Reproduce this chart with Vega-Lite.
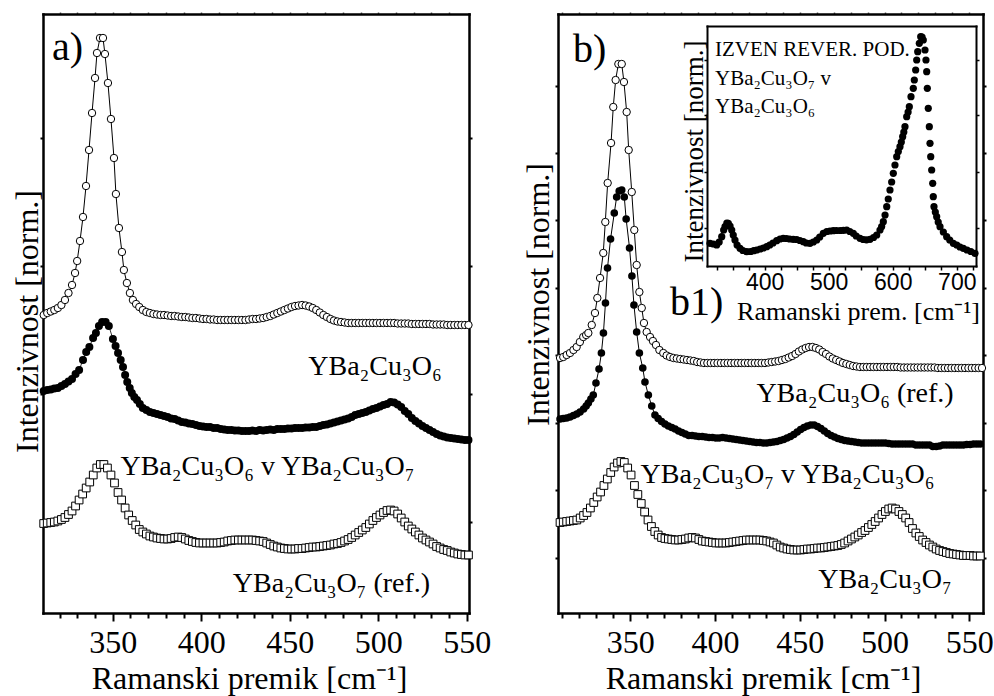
{
"$schema":"https://vega.github.io/schema/vega-lite/v6.json",
"width":940,"height":599,
"autosize":"none",
"padding":{"left":43,"top":14,"right":11,"bottom":83},
"background":"white",
"config":{
"view":{"stroke":null},
"font":"Liberation Serif",
"style":{"guide-label":{"font":"Liberation Serif"},"guide-title":{"font":"Liberation Serif"}},
"axis":{"labelFont":"Liberation Serif","titleFont":"Liberation Serif","labelColor":"black","titleColor":"black","domainColor":"black","tickColor":"black","titleFontWeight":"normal","grid":false,"labelFlush":false,"labelOverlap":false,"domainCap":"square"},
"text":{"font":"Liberation Serif","color":"black"}
},
"datasets":{
"A1":[{"x":311,"y":207},{"x":313,"y":209},{"x":315,"y":210.5},{"x":317,"y":212},{"x":319,"y":214},{"x":321,"y":217},{"x":323,"y":222},{"x":325,"y":229},{"x":327,"y":237},{"x":328.7,"y":249},{"x":329.9,"y":261},{"x":331.5,"y":281},{"x":333.2,"y":305},{"x":334.9,"y":336},{"x":336.6,"y":372},{"x":338.3,"y":409},{"x":340,"y":444},{"x":341.1,"y":469},{"x":342.8,"y":484},{"x":344.5,"y":484},{"x":345.6,"y":468},{"x":347.3,"y":439},{"x":349,"y":403},{"x":350.7,"y":364},{"x":351.8,"y":328},{"x":353.5,"y":294},{"x":355.2,"y":270},{"x":356.3,"y":252},{"x":358,"y":239},{"x":359.7,"y":229},{"x":361.4,"y":222},{"x":363.2,"y":218},{"x":365,"y":215},{"x":367,"y":212},{"x":369,"y":210},{"x":371,"y":209},{"x":373,"y":208},{"x":375,"y":207.5},{"x":377,"y":207},{"x":379,"y":207},{"x":381,"y":206.5},{"x":383,"y":206},{"x":385,"y":206},{"x":387,"y":205.5},{"x":389,"y":205},{"x":391,"y":205},{"x":393,"y":204.5},{"x":395,"y":204},{"x":397,"y":204},{"x":399,"y":203.5},{"x":401,"y":203},{"x":403,"y":203},{"x":405,"y":202.5},{"x":407,"y":202.5},{"x":409,"y":202},{"x":411,"y":202},{"x":413,"y":202},{"x":415,"y":202},{"x":417,"y":202},{"x":419,"y":202},{"x":421,"y":202},{"x":423,"y":202},{"x":425,"y":202},{"x":427,"y":202.5},{"x":429,"y":203},{"x":431,"y":203},{"x":433,"y":203.5},{"x":435,"y":204},{"x":437,"y":205},{"x":439,"y":206},{"x":441,"y":207.5},{"x":443,"y":209},{"x":445,"y":210.5},{"x":447,"y":212},{"x":449,"y":213.5},{"x":451,"y":215},{"x":453,"y":216},{"x":455,"y":216.5},{"x":457,"y":217},{"x":459,"y":216.5},{"x":461,"y":215.5},{"x":463,"y":214},{"x":465,"y":212},{"x":467,"y":209.5},{"x":469,"y":207},{"x":471,"y":205},{"x":473,"y":203},{"x":475,"y":201.5},{"x":477,"y":200.5},{"x":479,"y":200},{"x":481,"y":199.5},{"x":483,"y":199},{"x":485,"y":199},{"x":487,"y":199},{"x":489,"y":199},{"x":491,"y":199},{"x":493,"y":199},{"x":495,"y":199},{"x":497,"y":199},{"x":499,"y":199},{"x":501,"y":199},{"x":503,"y":199},{"x":505,"y":199},{"x":507,"y":199},{"x":509,"y":199},{"x":511,"y":198.5},{"x":513,"y":198.5},{"x":515,"y":198.5},{"x":517,"y":198.5},{"x":519,"y":198},{"x":521,"y":198},{"x":523,"y":198},{"x":525,"y":198},{"x":527,"y":198},{"x":529,"y":198},{"x":531,"y":197.5},{"x":533,"y":197.5},{"x":535,"y":197.5},{"x":537,"y":197.5},{"x":539,"y":197},{"x":541,"y":197},{"x":543,"y":197},{"x":545,"y":197},{"x":547,"y":197},{"x":549,"y":197},{"x":551,"y":197}],
"A2":[{"x":311,"y":131},{"x":313,"y":132},{"x":315,"y":132.5},{"x":317,"y":133.5},{"x":319,"y":134},{"x":321,"y":136},{"x":323,"y":138},{"x":325,"y":140.5},{"x":327,"y":143},{"x":329,"y":148},{"x":331,"y":152},{"x":333.2,"y":162},{"x":335,"y":170},{"x":336.8,"y":175},{"x":338.9,"y":184},{"x":340.5,"y":189},{"x":342.2,"y":196},{"x":344,"y":200},{"x":346,"y":200},{"x":347.8,"y":196},{"x":350.1,"y":183},{"x":351.6,"y":176},{"x":353,"y":169},{"x":354.5,"y":162},{"x":355.8,"y":155},{"x":357,"y":147},{"x":358.2,"y":140},{"x":359.6,"y":134},{"x":360.8,"y":129},{"x":362.2,"y":125},{"x":363.7,"y":122},{"x":365.3,"y":118},{"x":367,"y":114},{"x":369,"y":112},{"x":371,"y":110},{"x":373,"y":109},{"x":375,"y":108},{"x":377,"y":107},{"x":379,"y":106},{"x":381,"y":105},{"x":383,"y":103.5},{"x":385,"y":103},{"x":387,"y":101.5},{"x":389,"y":100},{"x":391,"y":99.5},{"x":393,"y":98.5},{"x":395,"y":98},{"x":397,"y":97},{"x":399,"y":96},{"x":401,"y":95.5},{"x":403,"y":95},{"x":405,"y":95},{"x":407,"y":94},{"x":409,"y":94},{"x":411,"y":93},{"x":413,"y":92.5},{"x":415,"y":92},{"x":417,"y":92},{"x":419,"y":91.5},{"x":421,"y":91.5},{"x":423,"y":91},{"x":425,"y":91},{"x":427,"y":91},{"x":429,"y":91.5},{"x":431,"y":91},{"x":433,"y":92},{"x":435,"y":91.5},{"x":437,"y":92},{"x":439,"y":92.5},{"x":441,"y":92},{"x":443,"y":93},{"x":445,"y":93},{"x":447,"y":93},{"x":449,"y":93.5},{"x":451,"y":93.5},{"x":453,"y":94},{"x":455,"y":94},{"x":457,"y":94},{"x":459,"y":94.5},{"x":461,"y":94.5},{"x":463,"y":95},{"x":465,"y":95},{"x":467,"y":96},{"x":469,"y":97},{"x":471,"y":97.5},{"x":473,"y":98.5},{"x":475,"y":99.5},{"x":477,"y":100.5},{"x":479,"y":101.5},{"x":481,"y":102.5},{"x":483,"y":103.5},{"x":485,"y":105},{"x":487,"y":107},{"x":489,"y":108},{"x":491,"y":109},{"x":493,"y":110},{"x":495,"y":111.5},{"x":497,"y":113},{"x":499,"y":114},{"x":501,"y":115.5},{"x":503,"y":117},{"x":505,"y":118},{"x":507,"y":120},{"x":509,"y":119.5},{"x":511,"y":117.5},{"x":513,"y":115},{"x":515,"y":111},{"x":517,"y":108},{"x":519,"y":104},{"x":521,"y":101},{"x":523,"y":98.5},{"x":525,"y":96},{"x":527,"y":94},{"x":529,"y":92},{"x":531,"y":90},{"x":533,"y":88},{"x":535,"y":86.5},{"x":537,"y":85.5},{"x":539,"y":84.5},{"x":541,"y":84},{"x":543,"y":83.5},{"x":545,"y":83},{"x":547,"y":82.5},{"x":549,"y":82},{"x":551,"y":82}],
"A3":[{"x":311,"y":-1.5},{"x":313,"y":-1},{"x":315,"y":-0.5},{"x":317,"y":0},{"x":319,"y":1},{"x":321,"y":2.5},{"x":323,"y":4.5},{"x":325,"y":7.5},{"x":327,"y":11},{"x":329,"y":16},{"x":331,"y":22},{"x":333,"y":28},{"x":335,"y":34},{"x":337,"y":40},{"x":339,"y":47},{"x":341,"y":54},{"x":343,"y":57.5},{"x":345,"y":57.5},{"x":347,"y":54},{"x":349,"y":47},{"x":351,"y":39},{"x":353,"y":29.5},{"x":355,"y":22},{"x":357,"y":14},{"x":359,"y":7},{"x":361,"y":1.5},{"x":363,"y":-3},{"x":365,"y":-7.5},{"x":367,"y":-10},{"x":369,"y":-12},{"x":371,"y":-14},{"x":373,"y":-15},{"x":375,"y":-16},{"x":377,"y":-16.5},{"x":379,"y":-17},{"x":381,"y":-17},{"x":383,"y":-16.5},{"x":385,"y":-15.5},{"x":387,"y":-15},{"x":389,"y":-15.5},{"x":391,"y":-17},{"x":393,"y":-18.5},{"x":395,"y":-19.5},{"x":397,"y":-20.5},{"x":399,"y":-21},{"x":401,"y":-21},{"x":403,"y":-21},{"x":405,"y":-21},{"x":407,"y":-21},{"x":409,"y":-21},{"x":411,"y":-20.5},{"x":413,"y":-20},{"x":415,"y":-19},{"x":417,"y":-18.5},{"x":419,"y":-18},{"x":421,"y":-18},{"x":423,"y":-18},{"x":425,"y":-18},{"x":427,"y":-18},{"x":429,"y":-18},{"x":431,"y":-18.5},{"x":433,"y":-19},{"x":435,"y":-19.5},{"x":437,"y":-21},{"x":439,"y":-22.5},{"x":441,"y":-24},{"x":443,"y":-25},{"x":445,"y":-26},{"x":447,"y":-26.5},{"x":449,"y":-27},{"x":451,"y":-27},{"x":453,"y":-27},{"x":455,"y":-26.5},{"x":457,"y":-26.5},{"x":459,"y":-26},{"x":461,"y":-25.5},{"x":463,"y":-25},{"x":465,"y":-25},{"x":467,"y":-24.5},{"x":469,"y":-24},{"x":471,"y":-23.5},{"x":473,"y":-23},{"x":475,"y":-22},{"x":477,"y":-21.5},{"x":479,"y":-20.5},{"x":481,"y":-19},{"x":483,"y":-17.5},{"x":485,"y":-15.5},{"x":487,"y":-13},{"x":489,"y":-10.5},{"x":491,"y":-8},{"x":493,"y":-5.5},{"x":495,"y":-2},{"x":497,"y":1.5},{"x":499,"y":4.5},{"x":501,"y":7},{"x":503,"y":9.5},{"x":505,"y":11.5},{"x":507,"y":12},{"x":509,"y":11},{"x":511,"y":8},{"x":513,"y":4},{"x":515,"y":0},{"x":517,"y":-4},{"x":519,"y":-7},{"x":521,"y":-10},{"x":523,"y":-13},{"x":525,"y":-16},{"x":527,"y":-18},{"x":529,"y":-20},{"x":531,"y":-22},{"x":533,"y":-24.5},{"x":535,"y":-26},{"x":537,"y":-27.5},{"x":539,"y":-28.5},{"x":541,"y":-30},{"x":543,"y":-31},{"x":545,"y":-32},{"x":547,"y":-32.5},{"x":549,"y":-33},{"x":551,"y":-33}],
"B1":[{"x":308.6,"y":255},{"x":310.5,"y":256},{"x":312.5,"y":258},{"x":314.5,"y":260},{"x":316.5,"y":263},{"x":318.4,"y":266},{"x":320.3,"y":271},{"x":322.3,"y":276},{"x":324,"y":278},{"x":325.3,"y":280},{"x":327.3,"y":288},{"x":329.2,"y":300},{"x":330.6,"y":315},{"x":332.2,"y":335},{"x":334.1,"y":360},{"x":335.3,"y":391},{"x":336.7,"y":430},{"x":338.7,"y":470},{"x":340,"y":506},{"x":341.4,"y":533},{"x":343,"y":549},{"x":345,"y":549},{"x":346.3,"y":531},{"x":347.9,"y":501},{"x":349.1,"y":463},{"x":350.9,"y":421},{"x":352.4,"y":383},{"x":353.8,"y":348},{"x":355.4,"y":321},{"x":356.8,"y":305},{"x":358.1,"y":290},{"x":359.7,"y":281},{"x":361.7,"y":276},{"x":363.4,"y":272},{"x":365.2,"y":268},{"x":367.2,"y":263},{"x":369.5,"y":260},{"x":371.5,"y":257.5},{"x":373.5,"y":256},{"x":375.5,"y":255},{"x":377.5,"y":254.5},{"x":379.5,"y":254},{"x":381.5,"y":253.5},{"x":383.5,"y":253},{"x":385.5,"y":252.5},{"x":387.5,"y":252},{"x":389.5,"y":251},{"x":391.5,"y":250.5},{"x":393.5,"y":250},{"x":395.5,"y":250},{"x":397.5,"y":250},{"x":399.5,"y":250},{"x":401.5,"y":250},{"x":403.5,"y":250},{"x":405.5,"y":250},{"x":407.5,"y":250},{"x":409.5,"y":250},{"x":411.5,"y":250},{"x":413.5,"y":250},{"x":415.5,"y":250},{"x":417.5,"y":250},{"x":419.5,"y":250},{"x":421.5,"y":250},{"x":423.5,"y":250},{"x":425.5,"y":250},{"x":427.5,"y":250},{"x":429.5,"y":250},{"x":431.5,"y":250.5},{"x":433.5,"y":251},{"x":435.5,"y":251.5},{"x":437.5,"y":252},{"x":439.5,"y":253},{"x":441.5,"y":254},{"x":443.5,"y":255.5},{"x":445.5,"y":257},{"x":447.5,"y":259},{"x":449.5,"y":261.5},{"x":451.5,"y":263.5},{"x":453.5,"y":265},{"x":455.5,"y":266},{"x":457.5,"y":266},{"x":459.5,"y":265},{"x":461.5,"y":263.5},{"x":463.5,"y":261},{"x":465.5,"y":259},{"x":467.5,"y":256.5},{"x":469.5,"y":254.5},{"x":471.5,"y":253},{"x":473.5,"y":251.5},{"x":475.5,"y":250},{"x":477.5,"y":249},{"x":479.5,"y":248},{"x":481.5,"y":247},{"x":483.5,"y":246.5},{"x":485.5,"y":246},{"x":487.5,"y":246},{"x":489.5,"y":246},{"x":491.5,"y":246},{"x":493.5,"y":246},{"x":495.5,"y":246},{"x":497.5,"y":246},{"x":499.5,"y":246},{"x":501.5,"y":246},{"x":503.5,"y":246},{"x":505.5,"y":246},{"x":507.5,"y":246},{"x":509.5,"y":245.5},{"x":511.5,"y":245.5},{"x":513.5,"y":245.5},{"x":515.5,"y":245.5},{"x":517.5,"y":245.5},{"x":519.5,"y":245.5},{"x":521.5,"y":245.5},{"x":523.5,"y":245.5},{"x":525.5,"y":245.5},{"x":527.5,"y":245.5},{"x":529.5,"y":245.5},{"x":531.5,"y":245},{"x":533.5,"y":245},{"x":535.5,"y":245},{"x":537.5,"y":245},{"x":539.5,"y":245},{"x":541.5,"y":245},{"x":543.5,"y":245},{"x":545.5,"y":245},{"x":547.5,"y":245},{"x":549.5,"y":245},{"x":551.5,"y":245},{"x":553.5,"y":245},{"x":555.5,"y":245},{"x":557.5,"y":245}],
"B2":[{"x":308.6,"y":194},{"x":310.5,"y":194.5},{"x":312.5,"y":195},{"x":314.5,"y":196},{"x":316.5,"y":197.5},{"x":318.5,"y":199},{"x":320.4,"y":201},{"x":322.5,"y":204},{"x":324,"y":207},{"x":325.3,"y":210},{"x":326.8,"y":214},{"x":328.2,"y":218},{"x":329.8,"y":230},{"x":331.6,"y":244},{"x":333,"y":260},{"x":334.2,"y":280},{"x":335.4,"y":310},{"x":336.6,"y":345},{"x":338.4,"y":374},{"x":340.6,"y":400},{"x":342,"y":416},{"x":343.5,"y":422},{"x":345,"y":423},{"x":346.5,"y":416},{"x":347.6,"y":394},{"x":349.6,"y":365},{"x":351,"y":337},{"x":352.2,"y":308},{"x":353.8,"y":281},{"x":355.4,"y":260},{"x":357.4,"y":245},{"x":358.7,"y":231},{"x":360.7,"y":218},{"x":362.7,"y":207},{"x":364.6,"y":198},{"x":366.5,"y":194.5},{"x":368.5,"y":191.5},{"x":370.5,"y":189},{"x":372.5,"y":187},{"x":374.5,"y":185.5},{"x":376.5,"y":184},{"x":378.5,"y":182},{"x":380.5,"y":180.5},{"x":382.5,"y":179},{"x":384.5,"y":177.5},{"x":386.5,"y":177.5},{"x":388.5,"y":177},{"x":390.5,"y":176.5},{"x":392.5,"y":176.5},{"x":394.5,"y":176},{"x":396.5,"y":175.5},{"x":398.5,"y":175.5},{"x":400.5,"y":175},{"x":402.5,"y":175},{"x":404.5,"y":175.5},{"x":406.5,"y":175},{"x":408.5,"y":174.5},{"x":410.5,"y":174},{"x":412.5,"y":173.5},{"x":414.5,"y":173},{"x":416.5,"y":172.5},{"x":418.5,"y":172},{"x":420.5,"y":171.5},{"x":422.5,"y":171},{"x":424.5,"y":170.5},{"x":426.5,"y":170.5},{"x":428.5,"y":170},{"x":430.5,"y":170},{"x":432.5,"y":170.5},{"x":434.5,"y":171},{"x":436.5,"y":171.5},{"x":438.5,"y":172.5},{"x":440.5,"y":173.5},{"x":442.5,"y":175},{"x":444.5,"y":176.5},{"x":446.5,"y":178.5},{"x":448.5,"y":181},{"x":450.5,"y":183.5},{"x":452.5,"y":185.5},{"x":454.5,"y":187},{"x":456.5,"y":188},{"x":458.5,"y":188},{"x":460.5,"y":186.5},{"x":462.5,"y":184.5},{"x":464.5,"y":182},{"x":466.5,"y":179.5},{"x":468.5,"y":177.5},{"x":470.5,"y":176},{"x":472.5,"y":174.5},{"x":474.5,"y":173.5},{"x":476.5,"y":172.5},{"x":478.5,"y":172},{"x":480.5,"y":171.5},{"x":482.5,"y":171},{"x":484.5,"y":170.5},{"x":486.5,"y":170},{"x":488.5,"y":170},{"x":490.5,"y":170},{"x":492.5,"y":170},{"x":494.5,"y":170},{"x":496.5,"y":170},{"x":498.5,"y":170},{"x":500.5,"y":170},{"x":502.5,"y":169.5},{"x":504.5,"y":169},{"x":506.5,"y":169},{"x":508.5,"y":169},{"x":510.5,"y":169},{"x":512.5,"y":169},{"x":514.5,"y":169},{"x":516.5,"y":169},{"x":518.5,"y":168},{"x":520.5,"y":168},{"x":522.5,"y":168},{"x":524.5,"y":168},{"x":526.5,"y":168},{"x":528.5,"y":166.5},{"x":530.5,"y":166.5},{"x":532.5,"y":167},{"x":534.5,"y":168},{"x":536.5,"y":168},{"x":538.5,"y":168},{"x":540.5,"y":168},{"x":542.5,"y":168},{"x":544.5,"y":168},{"x":546.5,"y":168},{"x":548.5,"y":168.5},{"x":550.5,"y":168.5},{"x":552.5,"y":169},{"x":554.5,"y":169},{"x":556.5,"y":169}],
"B3":[{"x":308.6,"y":90.5},{"x":310.5,"y":91},{"x":312.5,"y":91.5},{"x":314.5,"y":92},{"x":316.5,"y":92.5},{"x":318.5,"y":93},{"x":320.5,"y":95},{"x":322.5,"y":97.5},{"x":324.5,"y":100.5},{"x":326.5,"y":105},{"x":328.5,"y":110.5},{"x":330.5,"y":116},{"x":332.5,"y":121},{"x":334.5,"y":127.5},{"x":336.5,"y":134},{"x":338.5,"y":140.5},{"x":340.5,"y":146},{"x":342.5,"y":150},{"x":344.5,"y":151.5},{"x":346.5,"y":150.5},{"x":348.5,"y":145},{"x":350.5,"y":138},{"x":352.5,"y":127.5},{"x":354.5,"y":118.5},{"x":356.5,"y":109.5},{"x":358.5,"y":101},{"x":360.5,"y":93},{"x":362.5,"y":86.5},{"x":364.5,"y":81.5},{"x":366.5,"y":78},{"x":368.5,"y":75.5},{"x":370.5,"y":74.5},{"x":372.5,"y":74},{"x":374.5,"y":73.5},{"x":376.5,"y":73},{"x":378.5,"y":73},{"x":380.5,"y":73.5},{"x":382.5,"y":74},{"x":384.5,"y":75},{"x":386.5,"y":75.5},{"x":388.5,"y":75},{"x":390.5,"y":73.5},{"x":392.5,"y":72},{"x":394.5,"y":71.5},{"x":396.5,"y":71},{"x":398.5,"y":70.5},{"x":400.5,"y":70},{"x":402.5,"y":70},{"x":404.5,"y":70},{"x":406.5,"y":70},{"x":408.5,"y":70.5},{"x":410.5,"y":71},{"x":412.5,"y":71.5},{"x":414.5,"y":72},{"x":416.5,"y":72.5},{"x":418.5,"y":73},{"x":420.5,"y":73},{"x":422.5,"y":73},{"x":424.5,"y":73},{"x":426.5,"y":73},{"x":428.5,"y":72.5},{"x":430.5,"y":72},{"x":432.5,"y":71},{"x":434.5,"y":70},{"x":436.5,"y":68},{"x":438.5,"y":66},{"x":440.5,"y":65},{"x":442.5,"y":64},{"x":444.5,"y":63.5},{"x":446.5,"y":63},{"x":448.5,"y":63},{"x":450.5,"y":63},{"x":452.5,"y":63.5},{"x":454.5,"y":64},{"x":456.5,"y":64},{"x":458.5,"y":64.5},{"x":460.5,"y":65},{"x":462.5,"y":65},{"x":464.5,"y":65.5},{"x":466.5,"y":66},{"x":468.5,"y":66.5},{"x":470.5,"y":67},{"x":472.5,"y":67.5},{"x":474.5,"y":68.5},{"x":476.5,"y":70},{"x":478.5,"y":72},{"x":480.5,"y":74},{"x":482.5,"y":76},{"x":484.5,"y":78},{"x":486.5,"y":80.5},{"x":488.5,"y":82.5},{"x":490.5,"y":85.5},{"x":492.5,"y":88.5},{"x":494.5,"y":91.5},{"x":496.5,"y":95},{"x":498.5,"y":98.5},{"x":500.5,"y":101.5},{"x":502.5,"y":104},{"x":504.5,"y":105},{"x":506.5,"y":104},{"x":508.5,"y":101.5},{"x":510.5,"y":98.5},{"x":512.5,"y":95},{"x":514.5,"y":90.5},{"x":516.5,"y":84.5},{"x":518.5,"y":80},{"x":520.5,"y":76.5},{"x":522.5,"y":73},{"x":524.5,"y":70.5},{"x":526.5,"y":68},{"x":528.5,"y":66},{"x":530.5,"y":64},{"x":532.5,"y":62.5},{"x":534.5,"y":61.5},{"x":536.5,"y":60.5},{"x":538.5,"y":59.5},{"x":540.5,"y":59},{"x":542.5,"y":58.5},{"x":544.5,"y":58},{"x":546.5,"y":57.5},{"x":548.5,"y":57.5},{"x":550.5,"y":57.5},{"x":552.5,"y":57},{"x":554.5,"y":57},{"x":556.5,"y":57}],
"I1":[{"x":314.7,"y":22.7},{"x":320,"y":22},{"x":325.1,"y":21},{"x":329,"y":24},{"x":333,"y":29.3},{"x":336,"y":36},{"x":338.1,"y":39.3},{"x":341,"y":43},{"x":343.3,"y":42.7},{"x":346,"y":40},{"x":348.6,"y":36},{"x":351,"y":31},{"x":353.7,"y":26},{"x":357,"y":21},{"x":361.5,"y":17.7},{"x":366,"y":15.5},{"x":372,"y":14.3},{"x":378,"y":14.5},{"x":383,"y":15.3},{"x":387.6,"y":16},{"x":393,"y":17},{"x":398,"y":18},{"x":403.2,"y":19.3},{"x":408,"y":21},{"x":413,"y":23},{"x":418.8,"y":25.3},{"x":424,"y":27},{"x":429.1,"y":27.7},{"x":434,"y":27.5},{"x":439,"y":27},{"x":444.7,"y":26.7},{"x":450,"y":26.5},{"x":455,"y":25.5},{"x":460.4,"y":24.3},{"x":465,"y":23},{"x":470.8,"y":22.7},{"x":476,"y":24},{"x":481.3,"y":26},{"x":486,"y":29},{"x":491.6,"y":32.7},{"x":497,"y":34.5},{"x":502,"y":35},{"x":507.2,"y":35.3},{"x":512,"y":35.5},{"x":518,"y":35.5},{"x":523,"y":35.7},{"x":528.1,"y":36},{"x":533,"y":34.5},{"x":538.4,"y":32.7},{"x":543,"y":30},{"x":548.9,"y":27.7},{"x":554,"y":26.5},{"x":559,"y":26.2},{"x":564.5,"y":26.7},{"x":570,"y":28.5},{"x":575,"y":31},{"x":580.1,"y":36},{"x":582.7,"y":39.5},{"x":585.3,"y":44.3},{"x":588,"y":51},{"x":590.6,"y":59.3},{"x":593,"y":67},{"x":595.7,"y":76},{"x":598.3,"y":84},{"x":600.9,"y":92.7},{"x":603.5,"y":101},{"x":606.2,"y":109.3},{"x":608.7,"y":114.5},{"x":611.3,"y":119.3},{"x":613.4,"y":124},{"x":615.5,"y":129.3},{"x":617.3,"y":134},{"x":619.1,"y":139.3},{"x":621.8,"y":149.3},{"x":624,"y":154},{"x":625.9,"y":159.3},{"x":628.5,"y":169.3},{"x":632.1,"y":177.7},{"x":633.7,"y":186},{"x":635.8,"y":196},{"x":637.4,"y":206},{"x":639,"y":214.3},{"x":641.5,"y":222.7},{"x":643.7,"y":229.3},{"x":645.8,"y":229},{"x":647.7,"y":226},{"x":650.4,"y":216},{"x":651.9,"y":206},{"x":653,"y":194.3},{"x":654,"y":177.7},{"x":655.5,"y":157.7},{"x":657.1,"y":139.3},{"x":658.2,"y":122.7},{"x":659.3,"y":109.3},{"x":660.8,"y":96},{"x":662.4,"y":82.7},{"x":663.3,"y":69.3},{"x":664.4,"y":59.3},{"x":666.5,"y":54},{"x":668.6,"y":49.3},{"x":671,"y":44},{"x":673.8,"y":39.3},{"x":679,"y":34},{"x":684.2,"y":29.3},{"x":689,"y":26},{"x":694.6,"y":22.7},{"x":700,"y":21},{"x":705,"y":19},{"x":710.2,"y":17.7},{"x":716,"y":16},{"x":722,"y":14.5},{"x":728.4,"y":12.7}],
"TA":[{"x":498.2,"y":147,"t":"YBa₂Cu₃O₆"},{"x":437.4,"y":47,"t":"YBa₂Cu₃O₆ v YBa₂Cu₃O₇"},{"x":473.6,"y":-70,"t":"YBa₂Cu₃O₇ (ref.)"}],
"LA":[{"x":315.7,"y":462,"t":"a)"}],
"TB":[{"x":482.6,"y":211,"t":"YBa₂Cu₃O₆ (ref.)"},{"x":442.8,"y":130,"t":"YBa₂Cu₃O₇ v YBa₂Cu₃O₆"},{"x":500.3,"y":25,"t":"YBa₂Cu₃O₇"}],
"LB":[{"x":316.2,"y":551,"t":"b)"},{"x":373.5,"y":298,"t":"b1)"}],
"TI":[{"x":322.5,"y":210,"t":"IZVEN REVER. POD."},{"x":322.5,"y":181,"t":"YBa₂Cu₃O₇ v"},{"x":322.5,"y":153,"t":"YBa₂Cu₃O₆"}]
},
"layer":[
{"layer":[
{"data":{"name":"A1"},"mark":{"type":"line","color":"black","strokeWidth":1},"encoding":{"x":{"field":"x","type":"quantitative","scale":{"domain":[310.6,551.3],"range":[0,426],"nice":false,"zero":false},"axis":null},"y":{"field":"y","type":"quantitative","scale":{"domain":[-91,508],"range":[599,0],"nice":false,"zero":false},"axis":null}}},
{"data":{"name":"A1"},"mark":{"type":"point","shape":"circle","filled":true,"fill":"white","stroke":"black","strokeWidth":1,"size":55,"opacity":1},"encoding":{"x":{"field":"x","type":"quantitative","scale":{"domain":[310.6,551.3],"range":[0,426],"nice":false,"zero":false},"axis":null},"y":{"field":"y","type":"quantitative","scale":{"domain":[-91,508],"range":[599,0],"nice":false,"zero":false},"axis":null}}},
{"data":{"name":"A2"},"mark":{"type":"line","color":"black","strokeWidth":0.8},"encoding":{"x":{"field":"x","type":"quantitative","scale":{"domain":[310.6,551.3],"range":[0,426],"nice":false,"zero":false},"axis":null},"y":{"field":"y","type":"quantitative","scale":{"domain":[-91,508],"range":[599,0],"nice":false,"zero":false},"axis":null}}},
{"data":{"name":"A2"},"mark":{"type":"point","shape":"circle","filled":true,"color":"black","size":64,"opacity":1},"encoding":{"x":{"field":"x","type":"quantitative","scale":{"domain":[310.6,551.3],"range":[0,426],"nice":false,"zero":false},"axis":null},"y":{"field":"y","type":"quantitative","scale":{"domain":[-91,508],"range":[599,0],"nice":false,"zero":false},"axis":null}}},
{"data":{"name":"A3"},"mark":{"type":"point","shape":"square","filled":true,"fill":"white","stroke":"black","strokeWidth":1,"size":60,"opacity":1},"encoding":{"x":{"field":"x","type":"quantitative","scale":{"domain":[310.6,551.3],"range":[0,426],"nice":false,"zero":false},"axis":null},"y":{"field":"y","type":"quantitative","scale":{"domain":[-91,508],"range":[599,0],"nice":false,"zero":false},"axis":null}}},
{"data":{"name":"TA"},"mark":{"type":"text","align":"center","baseline":"alphabetic","fontSize":28,"font":"Liberation Serif"},"encoding":{"x":{"field":"x","type":"quantitative","scale":{"domain":[310.6,551.3],"range":[0,426],"nice":false,"zero":false},"axis":null},"y":{"field":"y","type":"quantitative","scale":{"domain":[-91,508],"range":[599,0],"nice":false,"zero":false},"axis":null},"text":{"field":"t"}}},
{"data":{"name":"LA"},"mark":{"type":"text","align":"left","baseline":"alphabetic","fontSize":40,"font":"Liberation Serif"},"encoding":{"x":{"field":"x","type":"quantitative","scale":{"domain":[310.6,551.3],"range":[0,426],"nice":false,"zero":false},"axis":null},"y":{"field":"y","type":"quantitative","scale":{"domain":[-91,508],"range":[599,0],"nice":false,"zero":false},"axis":null},"text":{"field":"t"}}},
{"mark":{"type":"rule","opacity":0},"encoding":{"x":{"datum":400,"type":"quantitative","scale":{"domain":[310.6,551.3],"range":[0,426],"nice":false,"zero":false},"axis":{"orient":"bottom","values":[350,400,450,500,550],"tickSize":8,"tickWidth":2,"domainWidth":2.5,"labelFont":"Liberation Serif","labelFontSize":32,"labelPadding":31,"labelBaseline":"alphabetic","title":"Ramanski premik [cm⁻¹]","titleFont":"Liberation Serif","titleFontSize":32,"titleX":206,"titleY":75,"titleBaseline":"alphabetic"}}}},
{"mark":{"type":"rule","opacity":0},"encoding":{"x":{"datum":400,"type":"quantitative","scale":{"domain":[310.6,551.3],"range":[0,426],"nice":false,"zero":false},"axis":{"orient":"bottom","values":[320,330,340,360,370,380,390,410,420,430,440,460,470,480,490,510,520,530,540],"tickSize":5,"tickWidth":2,"domain":false,"labels":false,"title":null}}}},
{"mark":{"type":"rule","opacity":0},"encoding":{"x":{"datum":400,"type":"quantitative","scale":{"domain":[310.6,551.3],"range":[0,426],"nice":false,"zero":false},"axis":{"orient":"top","values":[320,330,340,350,360,370,380,390,400,410,420,430,440,450,460,470,480,490,500,510,520,530,540],"tickSize":2,"tickWidth":1.5,"tickColor":"#555","domainWidth":2.5,"labels":false,"title":null}}}},
{"mark":{"type":"rule","opacity":0},"encoding":{"y":{"datum":0,"type":"quantitative","scale":{"domain":[-91,508],"range":[599,0],"nice":false,"zero":false},"axis":{"orient":"left","values":[0,128,256,384],"tickSize":3,"tickWidth":2,"domainWidth":2.5,"labels":false,"title":"Intenzivnost [norm.]","titleFont":"Liberation Serif","titleFontSize":32,"titleX":-6,"titleY":307,"titleAngle":270,"titleBaseline":"alphabetic"}}}},
{"mark":{"type":"rule","opacity":0},"encoding":{"y":{"datum":0,"type":"quantitative","scale":{"domain":[-91,508],"range":[599,0],"nice":false,"zero":false},"axis":{"orient":"right","offset":-514,"values":[0,128,256,384],"tickSize":3,"tickWidth":2,"domainWidth":2.5,"labels":false,"title":null}}}}
],"resolve":{"axis":{"x":"independent","y":"independent"}}},
{"layer":[
{"data":{"name":"B1"},"mark":{"type":"line","color":"black","strokeWidth":1},"encoding":{"x":{"field":"x","type":"quantitative","scale":{"domain":[307.4,558.1],"range":[515,940],"nice":false,"zero":false},"axis":null},"y":{"field":"y","type":"quantitative","scale":{"domain":[0,599],"range":[599,0],"nice":false,"zero":false},"axis":null}}},
{"data":{"name":"B1"},"mark":{"type":"point","shape":"circle","filled":true,"fill":"white","stroke":"black","strokeWidth":1,"size":55,"opacity":1},"encoding":{"x":{"field":"x","type":"quantitative","scale":{"domain":[307.4,558.1],"range":[515,940],"nice":false,"zero":false},"axis":null},"y":{"field":"y","type":"quantitative","scale":{"domain":[0,599],"range":[599,0],"nice":false,"zero":false},"axis":null}}},
{"data":{"name":"B2"},"mark":{"type":"line","color":"black","strokeWidth":1},"encoding":{"x":{"field":"x","type":"quantitative","scale":{"domain":[307.4,558.1],"range":[515,940],"nice":false,"zero":false},"axis":null},"y":{"field":"y","type":"quantitative","scale":{"domain":[0,599],"range":[599,0],"nice":false,"zero":false},"axis":null}}},
{"data":{"name":"B2"},"mark":{"type":"point","shape":"circle","filled":true,"color":"black","size":58,"opacity":1},"encoding":{"x":{"field":"x","type":"quantitative","scale":{"domain":[307.4,558.1],"range":[515,940],"nice":false,"zero":false},"axis":null},"y":{"field":"y","type":"quantitative","scale":{"domain":[0,599],"range":[599,0],"nice":false,"zero":false},"axis":null}}},
{"data":{"name":"B3"},"mark":{"type":"point","shape":"square","filled":true,"fill":"white","stroke":"black","strokeWidth":1,"size":60,"opacity":1},"encoding":{"x":{"field":"x","type":"quantitative","scale":{"domain":[307.4,558.1],"range":[515,940],"nice":false,"zero":false},"axis":null},"y":{"field":"y","type":"quantitative","scale":{"domain":[0,599],"range":[599,0],"nice":false,"zero":false},"axis":null}}},
{"data":{"name":"TB"},"mark":{"type":"text","align":"center","baseline":"alphabetic","fontSize":28,"font":"Liberation Serif"},"encoding":{"x":{"field":"x","type":"quantitative","scale":{"domain":[307.4,558.1],"range":[515,940],"nice":false,"zero":false},"axis":null},"y":{"field":"y","type":"quantitative","scale":{"domain":[0,599],"range":[599,0],"nice":false,"zero":false},"axis":null},"text":{"field":"t"}}},
{"data":{"name":"LB"},"mark":{"type":"text","align":"left","baseline":"alphabetic","fontSize":40,"font":"Liberation Serif"},"encoding":{"x":{"field":"x","type":"quantitative","scale":{"domain":[307.4,558.1],"range":[515,940],"nice":false,"zero":false},"axis":null},"y":{"field":"y","type":"quantitative","scale":{"domain":[0,599],"range":[599,0],"nice":false,"zero":false},"axis":null},"text":{"field":"t"}}},
{"mark":{"type":"rule","opacity":0},"encoding":{"x":{"datum":400,"type":"quantitative","scale":{"domain":[307.4,558.1],"range":[515,940],"nice":false,"zero":false},"axis":{"orient":"bottom","values":[350,400,450,500,550],"tickSize":8,"tickWidth":2,"domainWidth":2.5,"labelFont":"Liberation Serif","labelFontSize":32,"labelPadding":31,"labelBaseline":"alphabetic","title":"Ramanski premik [cm⁻¹]","titleFont":"Liberation Serif","titleFontSize":32,"titleX":720,"titleY":75,"titleBaseline":"alphabetic"}}}},
{"mark":{"type":"rule","opacity":0},"encoding":{"x":{"datum":400,"type":"quantitative","scale":{"domain":[307.4,558.1],"range":[515,940],"nice":false,"zero":false},"axis":{"orient":"bottom","values":[310,320,330,340,360,370,380,390,410,420,430,440,460,470,480,490,510,520,530,540],"tickSize":5,"tickWidth":2,"domain":false,"labels":false,"title":null}}}},
{"mark":{"type":"rule","opacity":0},"encoding":{"x":{"datum":400,"type":"quantitative","scale":{"domain":[307.4,558.1],"range":[515,940],"nice":false,"zero":false},"axis":{"orient":"top","values":[310,320,330,340,350,360,370,380,390,400,410,420,430,440,450,460,470,480,490,500,510,520,530,540,550],"tickSize":2,"tickWidth":1.5,"tickColor":"#555","domainWidth":2.5,"labels":false,"title":null}}}},
{"mark":{"type":"rule","opacity":0},"encoding":{"y":{"datum":0,"type":"quantitative","scale":{"domain":[0,599],"range":[599,0],"nice":false,"zero":false},"axis":{"orient":"left","offset":-515,"values":[55,123,190,258,325,393,460,527],"tickSize":3,"tickWidth":2,"domainWidth":2.5,"labels":false,"title":"Intenzivnost [norm.]","titleFont":"Liberation Serif","titleFontSize":32,"titleX":-10,"titleY":280,"titleAngle":270,"titleBaseline":"alphabetic"}}}},
{"mark":{"type":"rule","opacity":0},"encoding":{"y":{"datum":0,"type":"quantitative","scale":{"domain":[0,599],"range":[599,0],"nice":false,"zero":false},"axis":{"orient":"right","values":[55,123,190,258,325,393,460,527],"tickSize":3,"tickWidth":2,"domainWidth":2.5,"labels":false,"title":null}}}}
],"resolve":{"axis":{"x":"independent","y":"independent"}}},
{"layer":[
{"data":{"name":"I1"},"mark":{"type":"point","shape":"circle","filled":true,"color":"black","size":52,"opacity":1},"encoding":{"x":{"field":"x","type":"quantitative","scale":{"domain":[310,730],"range":[664,933],"nice":false,"zero":false},"axis":null},"y":{"field":"y","type":"quantitative","scale":{"domain":[0,240],"range":[252,12],"nice":false,"zero":false},"axis":null}}},
{"data":{"name":"TI"},"mark":{"type":"text","align":"left","baseline":"alphabetic","fontSize":21,"font":"Liberation Serif"},"encoding":{"x":{"field":"x","type":"quantitative","scale":{"domain":[310,730],"range":[664,933],"nice":false,"zero":false},"axis":null},"y":{"field":"y","type":"quantitative","scale":{"domain":[0,240],"range":[252,12],"nice":false,"zero":false},"axis":null},"text":{"field":"t"}}},
{"mark":{"type":"rule","opacity":0},"encoding":{"x":{"datum":400,"type":"quantitative","scale":{"domain":[310,730],"range":[664,933],"nice":false,"zero":false},"axis":{"orient":"bottom","offset":-347,"values":[325,350,375,400,425,450,475,500,525,550,575,600,625,650,675,700,725],"labelExpr":"datum.value % 100 === 0 ? datum.label : ''","tickSize":4,"tickWidth":1.5,"domainWidth":2,"labelFont":"Liberation Sans","labelFontSize":23,"labelPadding":19,"labelBaseline":"alphabetic","title":"Ramanski prem. [cm⁻¹]","titleFont":"Liberation Serif","titleFontSize":26,"titleX":815,"titleY":53,"titleBaseline":"alphabetic"}}}},
{"mark":{"type":"rule","opacity":0},"encoding":{"x":{"datum":400,"type":"quantitative","scale":{"domain":[310,730],"range":[664,933],"nice":false,"zero":false},"axis":{"orient":"top","offset":-12,"ticks":false,"domainWidth":2,"labels":false,"title":null}}}},
{"mark":{"type":"rule","opacity":0},"encoding":{"y":{"datum":0,"type":"quantitative","scale":{"domain":[0,240],"range":[252,12],"nice":false,"zero":false},"axis":{"orient":"left","offset":-664,"values":[38,94,151,206],"tickSize":3,"tickWidth":1.5,"domainWidth":2,"labels":false,"title":"Intenzivnost [norm.]","titleFont":"Liberation Serif","titleFontSize":27,"titleX":-4.5,"titleY":137,"titleAngle":270,"titleBaseline":"alphabetic"}}}},
{"mark":{"type":"rule","opacity":0},"encoding":{"y":{"datum":0,"type":"quantitative","scale":{"domain":[0,240],"range":[252,12],"nice":false,"zero":false},"axis":{"orient":"right","offset":-7,"values":[38,94,151,206],"tickSize":3,"tickWidth":1.5,"domainWidth":2,"labels":false,"title":null}}}}
],"resolve":{"axis":{"x":"independent","y":"independent"}}}
],
"resolve":{"scale":{"x":"independent","y":"independent"}}
}
